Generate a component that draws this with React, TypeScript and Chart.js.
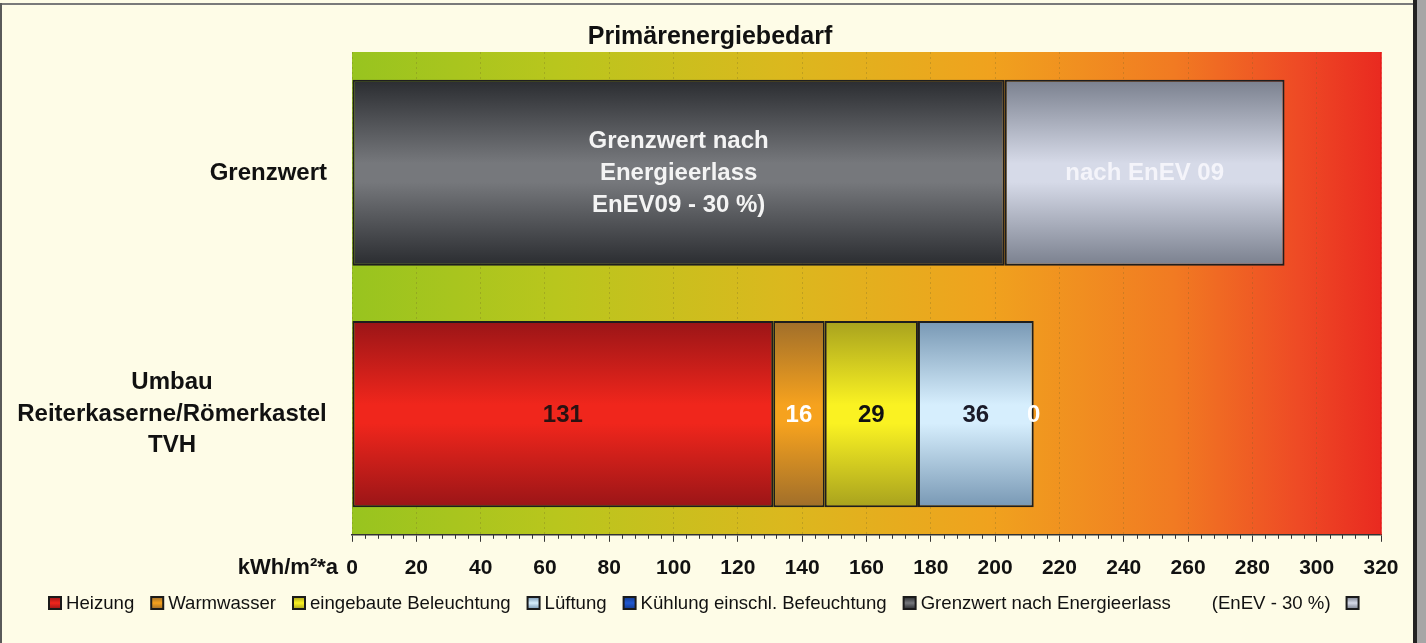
import React, { useEffect, useRef } from "react";
import { Chart, registerables } from "chart.js";

Chart.register(...registerables);

// ---------- data ----------
const categories: string[][] = [["Grenzwert"], ["Umbau", "Reiterkaserne/Römerkastel", "TVH"]];
const heizung = [null, 131];
const warmwasser = [null, 16];
const beleuchtung = [null, 29];
const lueftung = [null, 36];
const kuehlung = [null, 0];
const grenzwertErlass = [203, null];
const grenzwertEnev09 = [87, null];

const seriesNames = [
  "Heizung",
  "Warmwasser",
  "eingebaute Beleuchtung",
  "Lüftung",
  "Kühlung einschl. Befeuchtung",
  "Grenzwert nach Energieerlass",
  "(EnEV - 30 %)",
];
const erlassText = ["Grenzwert nach", "Energieerlass", "EnEV09 - 30 %)"];
const enev09Text = ["nach EnEV 09"];

const chartTitle = "Primärenergiebedarf";
const xUnitLabel = "kWh/m²*a";
const xMin = 0;
const xMax = 320;
const xStep = 20;
const xMinorStep = 4;

// ---------- styles ----------
const CREAM = "#FEFCE7";
const BAR_PCT = 0.771;
const FONT = "'Liberation Sans', Arial, Helvetica, sans-serif";

const seriesStyle = [
  { edge: "#9A1517", mid: "#F0261C", text: "#2A1212" },
  { edge: "#A06E2A", mid: "#F6A21E", text: "#FFFFFF" },
  { edge: "#A8A21E", mid: "#FAF222", text: "#111111" },
  { edge: "#7898B4", mid: "#D6EEFD", text: "#1A1A28" },
  { edge: "#123A90", mid: "#2058D0", text: "#FFFFFF" },
  { edge: "#2A2C30", mid: "#76787C", text: "#F4F4F4" },
  { edge: "#7A808E", mid: "#D6DAE8", text: "#F4F4FA" },
];

const barGradient = (edge: string, mid: string) => (c: any) => {
  const chart = c.chart;
  const a = chart.chartArea;
  if (!a || c.type !== "data" || !chart.scales.y) return mid;
  const y = chart.scales.y;
  const center = y.getPixelForValue(c.dataIndex);
  const half = ((y.bottom - y.top) / categories.length) * BAR_PCT / 2;
  const g = chart.ctx.createLinearGradient(0, center - half, 0, center + half);
  g.addColorStop(0, edge);
  g.addColorStop(0.45, mid);
  g.addColorStop(0.55, mid);
  g.addColorStop(1, edge);
  return g;
};

const seriesValues = [heizung, warmwasser, beleuchtung, lueftung, kuehlung, grenzwertErlass, grenzwertEnev09];

const labelLinesFor = (dsIndex: number, value: number): string[] => {
  if (dsIndex === 5) return erlassText;
  if (dsIndex === 6) return enev09Text;
  return [String(value)];
};

const bgPlugin = {
  id: "bgPlugin",
  beforeDraw(chart: any) {
    const { ctx, chartArea: a, width, height } = chart;
    ctx.save();
    ctx.fillStyle = CREAM;
    ctx.fillRect(0, 0, width, height);
    const g = ctx.createLinearGradient(a.left, 0, a.right, 0);
    g.addColorStop(0, "#98C41F");
    g.addColorStop(0.2, "#B9C61D");
    g.addColorStop(0.42, "#DBB81E");
    g.addColorStop(0.62, "#F0A21E");
    g.addColorStop(0.8, "#F17A22");
    g.addColorStop(0.92, "#EE4A25");
    g.addColorStop(1, "#E92A20");
    ctx.fillStyle = g;
    ctx.fillRect(a.left, a.top, a.right - a.left, a.bottom - a.top);
    ctx.restore();
  },
};

const labelPlugin = {
  id: "labelPlugin",
  afterDatasetsDraw(chart: any) {
    const { ctx } = chart;
    ctx.save();
    ctx.textAlign = "center";
    ctx.textBaseline = "middle";
    ctx.font = `bold 24px ${FONT}`;
    chart.data.datasets.forEach((ds: any, di: number) => {
      const meta = chart.getDatasetMeta(di);
      meta.data.forEach((el: any, i: number) => {
        const v = ds.data[i];
        if (v === null || v === undefined) return;
        const p = el.getProps(["x", "y", "base"], true);
        const cx = (p.x + p.base) / 2;
        const lines = labelLinesFor(di, v);
        const lh = 32;
        ctx.fillStyle = seriesStyle[di].text;
        lines.forEach((t, li) => {
          ctx.fillText(t, cx, p.y + (li - (lines.length - 1) / 2) * lh + 1);
        });
      });
    });
    ctx.restore();
  },
  afterDraw(chart: any) {
    const { ctx, chartArea: a, width } = chart;
    const yScale = chart.scales.y;
    const xScale = chart.scales.x;
    ctx.save();
    // title
    ctx.fillStyle = "#111";
    ctx.textAlign = "center";
    ctx.textBaseline = "middle";
    ctx.font = `bold 25px ${FONT}`;
    ctx.fillText(chartTitle, width / 2 - 3, 37);

    // category labels
    ctx.font = `bold 24px ${FONT}`;
    categories.forEach((lines, i) => {
      const cy = yScale.getPixelForValue(i);
      if (lines.length === 1) {
        ctx.textAlign = "right";
        ctx.fillText(lines[0], a.left - 25, cy + 1);
      } else {
        ctx.textAlign = "center";
        const lh = 31.5;
        lines.forEach((t, li) => {
          ctx.fillText(t, a.left - 180, cy + (li - (lines.length - 1) / 2) * lh);
        });
      }
    });

    // unit label
    ctx.font = `bold 22px ${FONT}`;
    ctx.textAlign = "right";
    ctx.fillText(xUnitLabel, a.left - 14, a.bottom + 33);

    // minor ticks
    ctx.strokeStyle = "#333";
    ctx.lineWidth = 1;
    for (let v = xMin; v <= xMax; v += xMinorStep) {
      if (v % xStep === 0) continue;
      const px = Math.round(xScale.getPixelForValue(v)) + 0.5;
      ctx.beginPath();
      ctx.moveTo(px, a.bottom);
      ctx.lineTo(px, a.bottom + 4);
      ctx.stroke();
    }
    // right edge line
    ctx.strokeStyle = "#E81818";
    ctx.lineWidth = 1.5;
    ctx.beginPath();
    ctx.moveTo(a.right, a.top);
    ctx.lineTo(a.right, a.bottom);
    ctx.stroke();

    // legend
    const ly = 603;
    let lx = 49;
    const box = 12;
    ctx.font = `18.6px ${FONT}`;
    ctx.textAlign = "left";
    ctx.textBaseline = "middle";
    const drawBox = (x: number, st: any) => {
      const g = ctx.createLinearGradient(0, ly - box / 2, 0, ly + box / 2);
      g.addColorStop(0, st.edge);
      g.addColorStop(0.5, st.mid);
      g.addColorStop(1, st.edge);
      ctx.fillStyle = g;
      ctx.fillRect(x, ly - box / 2, box, box);
      ctx.strokeStyle = "#1A1A1A";
      ctx.lineWidth = 2;
      ctx.strokeRect(x, ly - box / 2, box, box);
    };
    seriesNames.forEach((name, i) => {
      const w = ctx.measureText(name).width;
      if (i < seriesNames.length - 1) {
        drawBox(lx, seriesStyle[i]);
        lx += box + 5;
        ctx.fillStyle = "#111";
        ctx.fillText(name, lx, ly + 1);
        lx += w + 17;
      } else {
        lx += 24;
        ctx.fillStyle = "#111";
        ctx.fillText(name, lx, ly + 1);
        lx += w + 16;
        drawBox(lx, seriesStyle[i]);
      }
    });
    ctx.restore();
  },
};

export default function App() {
  const ref = useRef<HTMLCanvasElement | null>(null);

  useEffect(() => {
    if (!ref.current) return;
    const datasets = seriesValues.map((vals, i) => ({
      label: seriesNames[i],
      data: vals,
      backgroundColor: barGradient(seriesStyle[i].edge, seriesStyle[i].mid),
      borderColor: "#1E1E1E",
      borderWidth: 2,
      borderSkipped: false,
      categoryPercentage: 1,
      barPercentage: BAR_PCT,
    }));
    const chart = new Chart(ref.current, {
      type: "bar",
      data: { labels: categories as any, datasets: datasets as any },
      options: {
        indexAxis: "y",
        animation: false,
        responsive: true,
        maintainAspectRatio: false,
        layout: { padding: { left: 352, right: 45, top: 52, bottom: 48 } },
        plugins: {
          legend: { display: false },
          tooltip: { enabled: false },
          title: { display: false },
        },
        scales: {
          y: { stacked: true, display: false },
          x: {
            stacked: true,
            min: xMin,
            max: xMax,
            ticks: {
              stepSize: xStep,
              color: "#111",
              font: { family: FONT, size: 21, weight: "bold" },
              padding: 14,
              maxRotation: 0,
              autoSkip: false,
            },
            grid: {
              color: "rgba(110,100,40,0.28)",
              lineWidth: 1,
              drawTicks: true,
              tickLength: 7,
              tickColor: "#333",
              tickBorderDash: [],
            },
            border: { display: true, color: "#333", width: 1.5, dash: [2, 3] },
          },
        },
      } as any,
      plugins: [bgPlugin, labelPlugin],
    });
    return () => chart.destroy();
  }, []);

  return (
    <div style={{ position: "fixed", left: 0, top: 0, width: 1426, height: 643, background: CREAM, overflow: "hidden" }}>
      <canvas ref={ref} style={{ position: "absolute", left: 0, top: 0, width: 1426, height: 643 }} />
      <div style={{ position: "absolute", left: 0, top: 3, width: 1413, height: 2, background: "#7A7A7A" }} />
      <div style={{ position: "absolute", left: 0, top: 3, width: 2, height: 640, background: "#5A5A5A" }} />
      <div style={{ position: "absolute", left: 1413, top: 0, width: 4, height: 643, background: "#222" }} />
      <div style={{ position: "absolute", left: 1417, top: 0, width: 9, height: 643, background: "#A6A6A6" }} />
    </div>
  );
}
